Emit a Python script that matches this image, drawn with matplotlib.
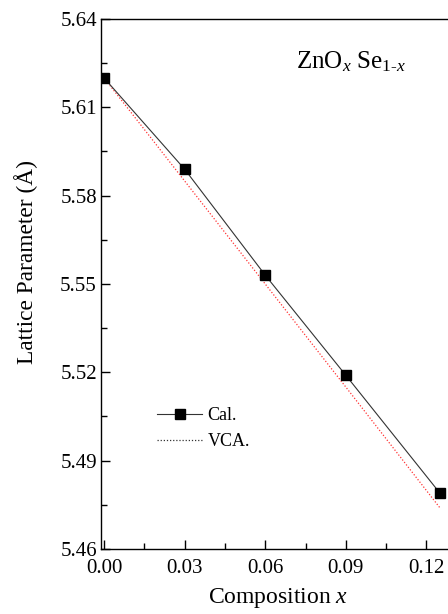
import numpy as np
import matplotlib
matplotlib.use("Agg")
import matplotlib.pyplot as plt
from matplotlib.lines import Line2D

# data
comp = [0.0, 0.03, 0.06, 0.09, 0.125]
cal = [5.620, 5.589, 5.553, 5.519, 5.479]
vca = [5.620, 5.585, 5.550, 5.515, 5.474]

xticks = [0.00, 0.03, 0.06, 0.09, 0.12]
yticks = [5.46, 5.49, 5.52, 5.55, 5.58, 5.61, 5.64]

plt.rcParams['font.family'] = ['Liberation Serif', 'DejaVu Serif']
plt.rcParams['mathtext.fontset'] = 'custom'
plt.rcParams['mathtext.rm'] = 'Liberation Serif'
plt.rcParams['mathtext.it'] = 'Liberation Serif:italic'

fig = plt.figure(figsize=(4.48, 6.14), dpi=100)
ax = fig.add_axes([101/448, 1 - 549/614, 352.3/448, 530/614])

ax.plot(comp, cal, color='#333333', lw=0.8, marker='s', ms=6.5,
        mfc='black', mec='black', zorder=3)
ax.plot(comp, vca, color='red', lw=0.9, ls=(0, (1, 1.5)), alpha=0.8, zorder=2)

ax.set_xlim(-0.00112, 0.13)
ax.set_ylim(5.46, 5.64)
ax.set_xticks(xticks)
ax.set_xticklabels(['%.2f' % v for v in xticks])
ax.set_yticks(yticks)
ax.set_yticklabels(['%.2f' % v for v in yticks])
ax.set_xticks(np.arange(0.015, 0.13, 0.03), minor=True)
ax.set_yticks(np.arange(5.475, 5.64, 0.03), minor=True)
ax.tick_params(which='both', direction='in', labelsize=15, width=1.0)
ax.tick_params(which='major', length=6.5)
ax.tick_params(which='minor', length=4)
ax.tick_params(axis='x', pad=7)
ax.tick_params(axis='y', pad=3)
for s in ax.spines.values():
    s.set_linewidth(1.0)

ax.text(0.5535, 0.9075, r'ZnO$_{x}$ Se$_{\text{1-}x}$', transform=ax.transAxes,
        fontsize=18, ha='left', va='baseline')

handles = [Line2D([], [], color='#333333', lw=0.8, marker='s', ms=6.5, mfc='black', mec='black'),
           Line2D([], [], color='#333333', lw=0.9, ls=(0, (1, 1.5)))]
ax.legend(handles, ['Cal.', 'VCA.'], loc='upper left', bbox_to_anchor=(0.159, 0.268),
          frameon=False, fontsize=13, borderpad=0, borderaxespad=0,
          handlelength=2.5, handletextpad=0.3, labelspacing=0.5)

fig.text(26/448, 1 - 262/614, u'Lattice Parameter (\u00c5)', rotation=90,
         fontsize=16.8, ha='center', va='center')
fig.text(278/448, 1 - 603/614, r'Composition $x$', fontsize=17,
         ha='center', va='baseline')

fig.savefig('out.png', dpi=100)
